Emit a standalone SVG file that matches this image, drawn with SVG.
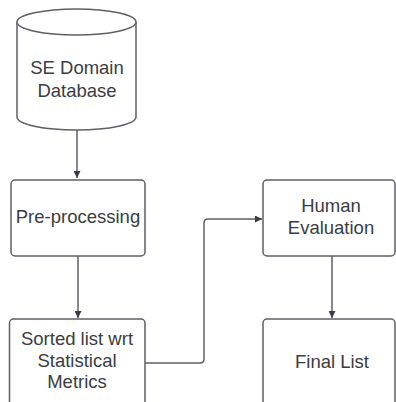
<svg xmlns="http://www.w3.org/2000/svg" width="396" height="402" viewBox="0 0 396 402">
<defs>
<style>
.s{fill:#fff;stroke:#5d6068;stroke-width:1.5}
.c{fill:none;stroke:#5d6068;stroke-width:1.5}
.t{font-family:"Liberation Sans",Arial,sans-serif;font-size:18.5px;fill:#3a3d42;text-anchor:middle}
</style>
<marker id="ah" viewBox="0 0 10 10" refX="10" refY="5" markerWidth="7" markerHeight="7" markerUnits="userSpaceOnUse" orient="auto">
<path d="M0,0 L10,5 L0,10 z" fill="#3a3d42"/>
</marker>
</defs>
<rect width="396" height="402" fill="#fff"/>
<g id="connectors">
<path class="c" d="M77,130 V178" marker-end="url(#ah)"/>
<path class="c" d="M78,256 V318" marker-end="url(#ah)"/>
<path class="c" d="M145,363 H200 Q204,363 204,359 V223 Q204,219 208,219 H262" marker-end="url(#ah)"/>
<path class="c" d="M332,256 V318" marker-end="url(#ah)"/>
</g>
<g id="database">
<path class="s" d="M17,22 V117 A59.5,13 0 0 0 136,117 V22"/>
<ellipse class="s" cx="76.5" cy="22" rx="59.5" ry="13"/>
<text class="t" x="77" y="74">SE Domain</text>
<text class="t" x="77" y="97">Database</text>
</g>
<g id="preprocessing">
<rect class="s" x="11" y="180" width="134" height="76" rx="4"/>
<text class="t" x="78" y="223">Pre-processing</text>
</g>
<g id="sorted">
<rect class="s" x="9.5" y="319" width="135.5" height="100" rx="4"/>
<text class="t" x="77" y="345">Sorted list wrt</text>
<text class="t" x="77" y="367">Statistical</text>
<text class="t" x="77" y="388">Metrics</text>
</g>
<g id="human">
<rect class="s" x="263" y="180" width="132" height="76" rx="4"/>
<text class="t" x="331" y="212">Human</text>
<text class="t" x="331" y="234">Evaluation</text>
</g>
<g id="final">
<rect class="s" x="263" y="319" width="132" height="100" rx="4"/>
<text class="t" x="332" y="368">Final List</text>
</g>
</svg>
